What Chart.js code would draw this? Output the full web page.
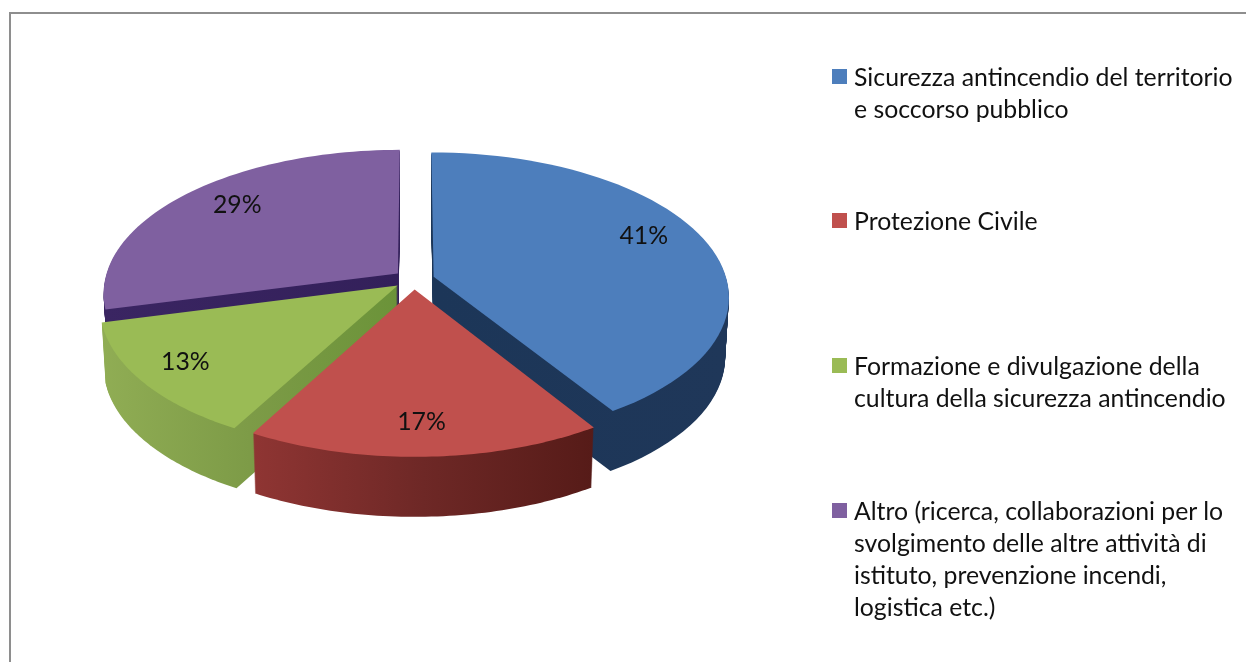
<!DOCTYPE html>
<html>
<head>
<meta charset="utf-8">
<title>Pie 3D</title>
<script src="https://cdn.jsdelivr.net/npm/chart.js@4/dist/chart.umd.js"></script>
<style>
    html, body { margin: 0; padding: 0; background: #fff; overflow: hidden; }
    #wrap { position: relative; width: 1246px; height: 662px; font-family: Lato, sans-serif; color: #111; }
    #frame { position: absolute; left: 9px; top: 12px; width: 1237px; height: 650px; box-sizing: border-box;
             border-left: 2px solid #8e8e8e; border-top: 2px solid #8e8e8e; }
    #pie { position: absolute; left: 0; top: 0; }
    .item { position: absolute; left: 854px; font-size: 24.8px; line-height: 32px; white-space: pre-line; }
    .item i { position: absolute; left: -22px; top: 8px; width: 15px; height: 15px; }
</style>
</head>
<body>
<div id="wrap">
    <div id="frame"></div>
    <canvas id="pie" width="1246" height="662"></canvas>
    <div id="legend"></div>
</div>
<script>
// chart data
var categories = [
    "Sicurezza antincendio del territorio\ne soccorso pubblico",
    "Protezione Civile",
    "Formazione e divulgazione della\ncultura della sicurezza antincendio",
    "Altro (ricerca, collaborazioni per lo\nsvolgimento delle altre attività di\nistituto, prevenzione incendi,\nlogistica etc.)"
];
var shares = [41, 17, 13, 29];
var topColors = ["#4d7ebc", "#c0504d", "#9abb55", "#7f60a0"];

// side walls, left to right
var wallColors = [
    ["#1c3658", "#1f3759"],
    ["#8f3533", "#6e2826", "#561b18"],
    ["#90ad54", "#7d9b47", "#6b9339"],
    ["#3a2562", "#33205a"]
];

// legend rows and label tweaks
var legendTops = [61, 205, 350, 495];
var labelNudge = [[6, -12], [-1, 12], [-25, 6], [1, -8]];

// look of the fake 3D
var centerY = 279.5;
var tilt = 0.484;
var perspective = 0.135;
var explode = 0.07;
var depth = 60;
var backToFront = [3, 0, 2, 1];

function project(arc, angle, radius, z) {
    var mid = (arc.startAngle + arc.endAngle) / 2;
    var u = Math.cos(angle) * radius + Math.cos(mid) * explode;
    var v = Math.sin(angle) * radius + Math.sin(mid) * explode;
    var s = 1 / (1 - perspective * v);
    return {
        x: arc.x + arc.outerRadius * u * s * (1 - 0.012 * z),
        y: centerY + arc.outerRadius * tilt * v * s + depth * z
    };
}

function slicePath(ctx, arc, z) {
    var steps = 60;
    var tip = project(arc, 0, 0, z);
    ctx.beginPath();
    ctx.moveTo(tip.x, tip.y);
    for (var i = 0; i <= steps; i++) {
        var a = arc.startAngle + (arc.endAngle - arc.startAngle) * i / steps;
        var p = project(arc, a, 1, z);
        ctx.lineTo(p.x, p.y);
    }
    ctx.closePath();
}

function wallGradient(ctx, arc, stops) {
    var minX = Infinity, maxX = -Infinity;
    for (var i = 0; i <= 60; i++) {
        var a = arc.startAngle + (arc.endAngle - arc.startAngle) * i / 60;
        var p = project(arc, a, 1, 0);
        minX = Math.min(minX, p.x);
        maxX = Math.max(maxX, p.x);
    }
    var tip = project(arc, 0, 0, 0);
    minX = Math.min(minX, tip.x);
    maxX = Math.max(maxX, tip.x);
    var g = ctx.createLinearGradient(minX, 0, maxX, 0);
    stops.forEach(function (c, i) { g.addColorStop(i / (stops.length - 1), c); });
    return g;
}

var pie3d = {
    id: 'pie3d',
    beforeDatasetDraw: function (chart, args) {
        var ctx = chart.ctx;
        var arcs = chart.getDatasetMeta(args.index).data;
        backToFront.forEach(function (i) {
            var arc = arcs[i];
            ctx.fillStyle = wallGradient(ctx, arc, wallColors[i]);
            for (var k = depth; k >= 1; k--) {
                slicePath(ctx, arc, k / depth);
                ctx.fill();
            }
            ctx.fillStyle = arc.options.backgroundColor;
            slicePath(ctx, arc, 0);
            ctx.fill();
        });
        // percent labels
        ctx.fillStyle = '#111';
        ctx.font = '24.8px Lato, sans-serif';
        ctx.textAlign = 'center';
        ctx.textBaseline = 'middle';
        arcs.forEach(function (arc, i) {
            var p = project(arc, (arc.startAngle + arc.endAngle) / 2, 0.75, 0);
            ctx.fillText(shares[i] + '%', p.x + labelNudge[i][0], p.y + labelNudge[i][1]);
        });
        return false;
    }
};

var ctx = document.getElementById('pie').getContext('2d');
var chart = new Chart(ctx, {
    type: 'pie',
    data: {
        labels: categories,
        datasets: [{ data: shares, backgroundColor: topColors, borderWidth: 0 }]
    },
    options: {
        responsive: false,
        animation: false,
        layout: { padding: { left: 121, right: 539, top: 38, bottom: 38 } },
        plugins: { legend: { display: false }, tooltip: { enabled: false } }
    },
    plugins: [pie3d]
});

// legend on the right
var legend = document.getElementById('legend');
categories.forEach(function (name, i) {
    var row = document.createElement('div');
    row.className = 'item';
    row.style.top = legendTops[i] + 'px';
    row.textContent = name;
    var box = document.createElement('i');
    box.style.background = topColors[i];
    row.appendChild(box);
    legend.appendChild(row);
});
</script>
</body>
</html>
